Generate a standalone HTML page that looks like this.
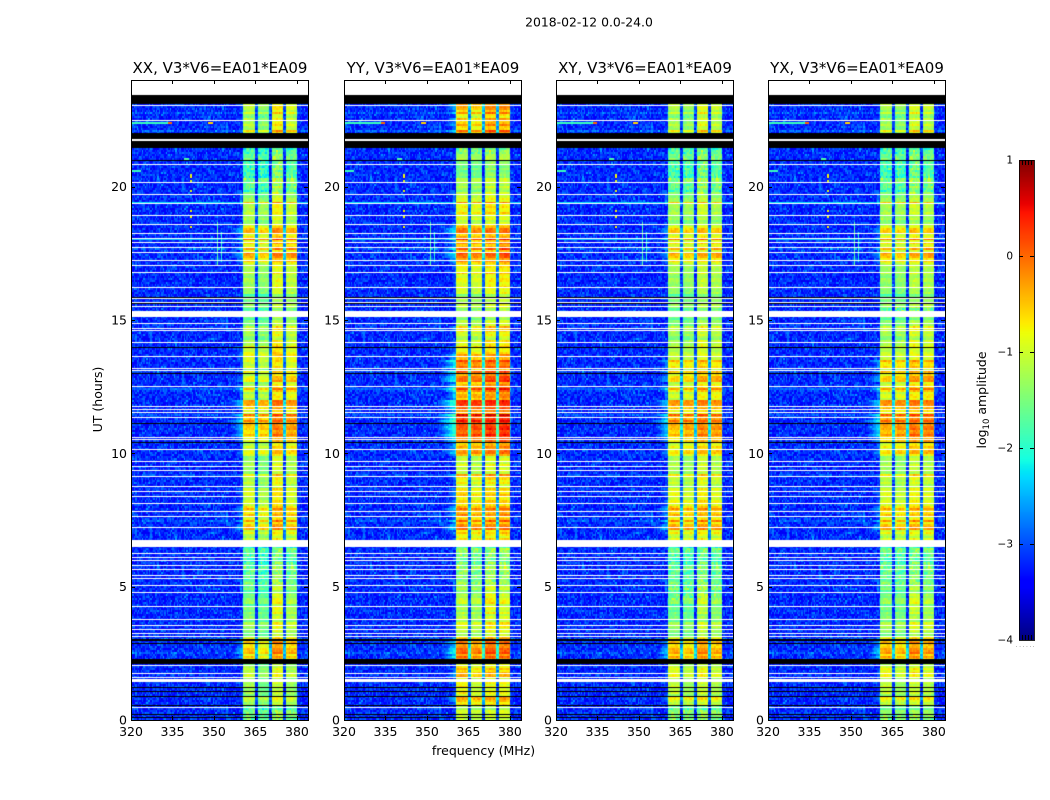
<!DOCTYPE html>
<html lang="en">
<head>
<meta charset="utf-8">
<title>2018-02-12 0.0-24.0 waterfall</title>
<style>
html,body{margin:0;padding:0;background:#fff;width:1050px;height:800px;overflow:hidden}
#figure{position:relative;width:1050px;height:800px;background:#fff}
canvas{position:absolute;display:block}
svg{position:absolute;left:0;top:0}
text{font-family:"DejaVu Sans","Liberation Sans",sans-serif;fill:#000}
</style>
</head>
<body>
<div id="figure">
<svg id="overlay" width="1050" height="800" viewBox="0 0 1050 800">
  <text x="589" y="26.500" text-anchor="middle" font-size="12.400">2018-02-12 0.0-24.0</text>
  <text x="483.500" y="755" text-anchor="middle" font-size="12.500">frequency (MHz)</text>
  <text transform="translate(102,399.500) rotate(-90)" text-anchor="middle" font-size="12.500">UT (hours)</text>
  <text transform="translate(986,400) rotate(-90)" text-anchor="middle" font-size="12.500">log<tspan font-size="8.500" dy="3">10</tspan><tspan dy="-3"> amplitude</tspan></text>
  <text x="1026" y="647" text-anchor="middle" font-size="6" style="fill:#777;letter-spacing:1.500px">......</text>
</svg>
</div>
<script>
// ---------- chart data ----------
const panelTitles = ["XX, V3*V6=EA01*EA09", "YY, V3*V6=EA01*EA09", "XY, V3*V6=EA01*EA09", "YX, V3*V6=EA01*EA09"];
const freqTicks = [320, 335, 350, 365, 380];
const hourTicks = [0, 5, 10, 15, 20];
const colorTicks = [-4, -3, -2, -1, 0, 1];

// In-band log10 amplitude for each quarter hour, 0.00 h upward
const levelsXX = [-1.7,-1.6,-1.3,-1.2,-1.25,-1.2,-1.3,-1.25,-1.05,-0.95,-0.8,-0.8,-1.1,-1.35,-1.3,-1.2,-1.2,-1.4,-1.45,-1.5,-1.75,-1.8,-1.75,-1.8,-1.75,-1.85,-1.8,-0.95,-0.8,-0.9,-0.75,-0.85,-1.1,-1.2,-1.05,-1.15,-1.25,-1.2,-1.1,-1.2,-1.0,-0.85,-0.7,-0.65,-0.55,-0.6,-0.7,-0.65,-0.85,-0.8,-0.95,-1.0,-1.05,-1.1,-1.0,-1.05,-1.15,-1.2,-1.25,-1.3,-1.4,-1.5,-1.5,-1.45,-1.35,-1.3,-1.35,-1.25,-0.75,-0.7,-0.65,-0.55,-0.6,-0.7,-1.15,-1.25,-1.2,-1.3,-1.45,-1.55,-1.6,-1.65,-1.6,-1.65,-1.75,-1.8,-1.5,-1.4,-1.3,-1.25,-1.2,-1.25,-1.3,-1.3,-1.3,-1.3];
const levelsYY = [-1.3,-1.15,-0.85,-0.75,-0.85,-0.8,-0.9,-0.8,-0.65,-0.55,-0.45,-0.5,-0.85,-1.15,-1.1,-1.0,-1.05,-1.2,-1.25,-1.3,-1.65,-1.7,-1.6,-1.65,-1.6,-1.7,-1.65,-0.7,-0.6,-0.7,-0.55,-0.65,-0.95,-1.05,-0.9,-1.0,-1.05,-1.0,-0.95,-1.0,-0.55,-0.35,-0.2,-0.15,-0.1,-0.1,-0.2,-0.2,-0.3,-0.25,-0.35,-0.35,-0.3,-0.35,-0.65,-1.0,-1.05,-1.1,-1.05,-1.1,-1.35,-1.3,-1.35,-1.25,-1.15,-1.1,-1.1,-1.05,-0.55,-0.5,-0.4,-0.35,-0.4,-0.5,-0.95,-1.1,-1.05,-1.15,-1.2,-1.25,-1.35,-1.4,-1.45,-1.4,-1.5,-1.55,-1.3,-1.2,-0.9,-0.8,-0.7,-0.75,-0.8,-0.8,-0.8,-0.8];
const levelsXY = [-1.65,-1.55,-1.15,-1.05,-1.1,-1.1,-1.15,-1.1,-0.9,-0.8,-0.75,-0.8,-1.15,-1.4,-1.4,-1.35,-1.4,-1.5,-1.55,-1.55,-1.8,-1.85,-1.8,-1.8,-1.8,-1.85,-1.8,-0.85,-0.7,-0.8,-0.7,-0.75,-1.05,-1.15,-1.05,-1.15,-1.2,-1.15,-1.1,-1.15,-0.9,-0.75,-0.65,-0.6,-0.5,-0.55,-0.65,-0.65,-0.8,-0.75,-0.85,-0.8,-0.85,-0.85,-1.2,-1.25,-1.25,-1.3,-1.3,-1.35,-1.45,-1.5,-1.5,-1.45,-1.45,-1.4,-1.45,-1.35,-0.9,-0.85,-0.8,-0.7,-0.75,-0.85,-1.3,-1.4,-1.35,-1.4,-1.5,-1.55,-1.6,-1.65,-1.6,-1.6,-1.7,-1.75,-1.55,-1.45,-1.4,-1.35,-1.3,-1.35,-1.4,-1.4,-1.4,-1.4];
const levelsYX = [-1.6,-1.45,-1.15,-1.05,-1.1,-1.1,-1.15,-1.05,-0.9,-0.8,-0.7,-0.75,-1.05,-1.3,-1.3,-1.25,-1.3,-1.4,-1.45,-1.5,-1.75,-1.8,-1.75,-1.75,-1.75,-1.8,-1.75,-0.95,-0.8,-0.9,-0.8,-0.85,-1.1,-1.2,-1.1,-1.2,-1.25,-1.2,-1.15,-1.2,-0.85,-0.65,-0.55,-0.5,-0.45,-0.5,-0.6,-0.6,-0.75,-0.7,-0.8,-0.75,-0.8,-0.8,-1.15,-1.2,-1.2,-1.25,-1.25,-1.3,-1.5,-1.55,-1.5,-1.5,-1.5,-1.45,-1.5,-1.4,-0.9,-0.85,-0.8,-0.75,-0.8,-0.9,-1.3,-1.4,-1.35,-1.4,-1.5,-1.6,-1.65,-1.7,-1.65,-1.65,-1.75,-1.8,-1.55,-1.5,-1.45,-1.4,-1.35,-1.4,-1.4,-1.4,-1.4,-1.4];
const panelLevels = [levelsXX, levelsYY, levelsXY, levelsYX];

// Relative response of the four sub-bands in each panel
const subbandGainXX = [-0.05, -0.2, 0.2, 0.0];
const subbandGainYY = [0.1, 0.0, 0.1, 0.15];
const subbandGainXY = [0.0, -0.05, 0.1, 0.0];
const subbandGainYX = [0.0, -0.05, 0.1, 0.05];
const panelGains = [subbandGainXX, subbandGainYY, subbandGainXY, subbandGainYX];
const subbandStartChannels = [81, 92, 102, 112];

// Hour-by-hour shift of each sub-band (0 h upward)
const subband1Drift = [0,0.15,0.05,-0.05,-0.1,0,0,0.1,0.05,0,-0.1,0.05,-0.1,0,-0.05,-0.05,0,0.1,0.05,-0.05,-0.1,0,0,0];
const subband2Drift = [0,0,-0.05,-0.1,-0.1,0,0,0.05,0,-0.05,0.05,0.1,0,0,-0.05,0,0,0.05,0,-0.05,-0.05,0,-0.1,0];
const subband3Drift = [0,0.1,0.15,0.1,0.25,0.1,0,0.1,0.1,0.1,0.1,0.1,0.1,0.05,0.15,0.05,0.1,0.05,0.05,0.1,0.05,0,0.2,0];
const subband4Drift = [0,0,0.05,0.05,0.05,0,0,0.1,0,0.05,0.1,0.1,0.15,0,0.1,0.1,0.1,0.15,0,0,-0.05,0,0.1,0];
const subbandDrifts = [subband1Drift, subband2Drift, subband3Drift, subband4Drift];

// Spectral shape per 0.5 MHz channel (320 MHz upward); -9 means no signal
const channelShape = [
-9,-9,-9,-9,-9,-9,-9,-9,-9,-9,-9,-9,-9,-9,-9,-9,-9,-9,-9,-9,
-9,-9,-9,-9,-9,-9,-9,-9,-9,-9,-9,-9,-9,-9,-9,-9,-9,-9,-9,-9,
-9,-9,-9,-9,-9,-9,-9,-9,-9,-9,-9,-9,-9,-9,-9,-9,-9,-9,-9,-9,
-9,-9,-9,-9,-9,-9,-9,-9,-3.2,-3.1,-3.0,-2.9,-2.8,-2.7,-2.6,-2.5,-2.4,-2.3,-2.2,-2.1,-2.0,
-0.15,-0.05,0,0,0.02,0,0,-0.03,-0.15,-1.9,-1.9,
-0.12,0,0.02,0,0,0,-0.03,-0.12,-1.9,-1.9,
-0.1,0,0.02,0.03,0,0,-0.02,-0.1,-1.9,-1.9,
-0.1,0,0.02,0,0.02,0,-0.02,-0.08,
-2.6,-9,-9,-9,-9,-9,-9,-9];

// Row-to-row stripes and cell residuals, read as typical deviations
const rowRipple = [0.05,-0.12,0.18,0.02,-0.2,0.12,0.24,-0.08,0.0,-0.15,0.1,0.2,-0.05,-0.22,0.06,0.15,-0.1,0.22,0.03,-0.18,0.09,-0.06,0.19,-0.14,0.01,0.13,-0.2,0.07,0.23,-0.11,-0.03,0.16,-0.17,0.04,0.21,-0.09,0.11];
const cellResidual = [0.12,-0.22,0.31,-0.05,0.08,-0.3,0.44,-0.14,0.02,0.19,-0.27,0.06,0.36,-0.1,-0.33,0.15,0.01,-0.19,0.27,-0.07,0.52,-0.24,0.1,-0.02,0.23,-0.35,0.05,0.17,-0.12,0.39,-0.28,0.0,0.13,-0.16,0.29,-0.08,-0.25,0.21,0.04,-0.31,0.33,-0.11,0.07,0.16,-0.21,0.47,-0.03,-0.29,0.11,0.25,-0.17,0.03,-0.34,0.2,0.09,-0.13,0.38,-0.06,-0.23,0.14,0.28,-0.18,0.0,0.18,-0.26,0.41,-0.09,0.06,-0.32,0.22,0.12,-0.15,0.03,0.34,-0.2,-0.04,0.26,-0.28,0.1,0.6,-0.12,-0.24,0.16,0.05,-0.36,0.3,-0.01,0.08,-0.19,0.24,-0.1,0.42,-0.27,0.02,0.15,-0.07,0.2];

// Background noise floor and its lift near strong rows
const backgroundLevel = [-3.2, -3.2, -3.2, -3.2];

// Rows with bursts: hour, in-band boost, broadband value
const burstHours = [19.42, 18.02, 17.63, 12.42, 13.05, 11.42, 9.22, 7.45, 3.05, 2.55, 22.12, 22.75];
const burstBoosts = [0.85, 0.8, 0.45, 0.85, 0.6, 0.35, 0.3, 0.35, 0.4, 0.4, 0.5, 0.3];
const burstFloors = [-2.35, -2.7, -3.0, -2.9, -3.0, -3.0, -3.0, -3.0, -3.0, -3.0, -3.0, -3.0];

// Narrow interference: hour, first channel, last channel, value
const rfiHours = [22.42, 22.42, 22.42, 20.6, 21.07, 19.4, 18.02];
const rfiFirstChannels = [0, 27, 56, 0, 38, 0, 0];
const rfiLastChannels = [26, 29, 58, 6, 41, 60, 60];
const rfiValues = [-1.9, 0.0, -0.6, -1.9, -1.8, -2.3, -2.4];

// Vertical interference: channel, start hour, end hour, value, minimum cell residual
const lineChannels = [62, 65, 43, 43];
const lineStartHours = [17.0, 17.2, 18.3, 19.8];
const lineEndHours = [18.7, 18.3, 19.2, 20.9];
const lineValues = [-1.8, -2.0, -0.9, -1.0];
const lineResidualGates = [-1, -1, 0.2, 0.2];

// Flagged data drawn white (no data) and black (zero amplitude), in hours
const whiteLineHours = [23.06,22.5,20.85,20.18,19.73,19.39,18.94,18.6,18.26,18.08,17.93,17.74,17.55,17.25,17.06,16.8,16.24,15.83,15.68,15.53,14.89,14.7,14.63,14.18,13.65,13.2,13.13,12.53,11.78,11.66,11.55,11.36,10.61,10.54,10.16,9.71,9.53,9.38,9.15,8.78,8.59,8.4,8.14,7.84,7.65,7.24,6.26,6.11,6.0,5.81,5.66,5.44,5.33,5.06,4.8,4.28,3.79,3.56,3.41,3.26,3.15,2.08,1.76,1.61,0.49];
const blackLineHours = [21.0,15.86,15.64,13.99,13.01,11.14,10.43,2.89,1.24,1.09,0.9,0.56,0.22,0.11];
const whiteBandStarts = [23.44, 21.71, 15.11, 6.49, 1.42];
const whiteBandEnds = [24.0, 21.79, 15.34, 6.75, 1.54];
const blackBandStarts = [23.1, 21.79, 21.45, 2.97, 2.1];
const blackBandEnds = [23.44, 22.01, 21.71, 3.04, 2.29];

// ---------- scales and geometry ----------
const SVGNS = "http://www.w3.org/2000/svg";
const panelLefts = [131, 344, 556, 768];
const panelW = 177, plotTop = 80, plotH = 640;
const freqMin = 320, freqMax = 384, hourMax = 24, channelCount = 128, rowCount = 320;
const xOf = (panel, f) => panelLefts[panel] + (f - freqMin) / (freqMax - freqMin) * panelW;
const yOf = h => plotTop + plotH - h / hourMax * plotH;

function clamp01(v){return Math.max(0, Math.min(1, v));}
function jet(t){
  const r = t < 0.35 ? 0 : t < 0.66 ? (t - 0.35) / 0.31 : t < 0.89 ? 1 : 1 - (t - 0.89) / 0.11 * 0.5;
  const g = t < 0.125 ? 0 : t < 0.375 ? (t - 0.125) / 0.25 : t < 0.64 ? 1 : t < 0.91 ? 1 - (t - 0.64) / 0.27 : 0;
  const b = t < 0.11 ? 0.5 + t / 0.11 * 0.5 : t < 0.34 ? 1 : t < 0.65 ? 1 - (t - 0.34) / 0.31 : 0;
  return "rgb(" + Math.round(r * 255) + "," + Math.round(g * 255) + "," + Math.round(b * 255) + ")";
}
const colorOf = v => jet(clamp01((v + 4) / 5));
function subbandOf(c){
  let s = 0;
  subbandStartChannels.forEach((start, i) => { if (c >= start) s = i; });
  return s;
}
function residualAt(r, c){
  return cellResidual[(r * r * 3 + c * c * 5 + r * c + r * 7 + c) % cellResidual.length];
}

// ---------- draw waterfall cells ----------
function cellValue(panel, r, c){
  const hour = (r + 0.5) * hourMax / rowCount;
  const level = panelLevels[panel][Math.min(panelLevels[panel].length - 1, Math.floor(hour * 4))];
  let boost = 0, floor = backgroundLevel[panel];
  burstHours.forEach((bh, i) => {
    if (Math.abs(bh - hour) <= hourMax / rowCount / 2) {
      boost = burstBoosts[i];
      floor = Math.max(floor, burstFloors[i]);
    }
  });
  const res = residualAt(r, c);
  const shape = channelShape[c];
  let v = floor + res * (floor > -3 ? 0.6 : 1);
  if (shape > -9) {
    const inBand = c >= subbandStartChannels[0] && shape > -1;
    const band = subbandOf(c);
    const gain = inBand ? panelGains[panel][band] + subbandDrifts[band][Math.floor(hour)] : 0;
    const ripple = rowRipple[(r * r + r * 5) % rowRipple.length] * (level > -1.1 ? 1.8 : 1.2);
    const mottling = level < -1.5 ? 1.0 : 0.4;
    const signal = shape + gain + level + boost + ripple + res * (inBand ? mottling : 0.5);
    v = Math.max(v, signal);
  }
  rfiHours.forEach((rh, i) => {
    if (Math.abs(rh - hour) <= hourMax / rowCount / 2 && c >= rfiFirstChannels[i] && c <= rfiLastChannels[i]) {
      v = Math.max(v, rfiValues[i]);
    }
  });
  lineChannels.forEach((lc, i) => {
    if (lc === c && hour >= lineStartHours[i] && hour <= lineEndHours[i] && res > lineResidualGates[i]) {
      v = Math.max(v, lineValues[i] + res * 0.4);
    }
  });
  return v;
}

const figure = document.getElementById("figure");
const overlay = document.getElementById("overlay");

panelTitles.forEach((title, p) => {
  const cv = document.createElement("canvas");
  cv.width = panelW; cv.height = plotH;
  cv.style.left = panelLefts[p] + "px";
  cv.style.top = plotTop + "px";
  
  
  figure.insertBefore(cv, overlay);
  const g = cv.getContext("2d");
  g.fillStyle = "#fff";
  g.fillRect(0, 0, panelW, plotH);
  const ox = panelLefts[p];
  for (let r = 0; r < rowCount; r++) {
    const hLow = r * hourMax / rowCount, hHigh = (r + 1) * hourMax / rowCount;
    const y0 = Math.round(yOf(hHigh)) - plotTop, y1 = Math.round(yOf(hLow)) - plotTop;
    for (let c = 0; c < channelCount; c++) {
      const fLow = freqMin + c * (freqMax - freqMin) / channelCount;
      const fHigh = freqMin + (c + 1) * (freqMax - freqMin) / channelCount;
      const x0 = Math.round(xOf(p, fLow)) - ox, x1 = Math.round(xOf(p, fHigh)) - ox;
      g.fillStyle = colorOf(cellValue(p, r, c));
      g.fillRect(x0, y0, x1 - x0, y1 - y0);
    }
  }
  g.fillStyle = "#fff";
  whiteLineHours.forEach(h => g.fillRect(0, Math.round(yOf(h)) - plotTop, panelW, 1));
  whiteBandStarts.forEach((s, i) => {
    const top = Math.round(yOf(whiteBandEnds[i])) - plotTop;
    g.fillRect(0, top, panelW, Math.round(yOf(s)) - plotTop - top);
  });
  g.fillStyle = "#000";
  blackLineHours.forEach(h => g.fillRect(0, Math.round(yOf(h)) - plotTop, panelW, 1));
  blackBandStarts.forEach((s, i) => {
    const top = Math.round(yOf(blackBandEnds[i])) - plotTop;
    g.fillRect(0, top, panelW, Math.round(yOf(s)) - plotTop - top);
  });
});

// ---------- axes ----------
function svgEl(tag, attrs){
  const el = document.createElementNS(SVGNS, tag);
  Object.keys(attrs).forEach(k => el.setAttribute(k, attrs[k]));
  overlay.appendChild(el);
  return el;
}

panelTitles.forEach((title, p) => {
  const left = panelLefts[p];
  const frame = svgEl("rect", {x: left + 0.5, y: plotTop + 0.5, width: panelW, height: plotH, fill: "none", stroke: "#000", "stroke-width": 1});
  
  

  const titleEl = svgEl("text", {x: left + panelW / 2 + 0.5, y: 73, "text-anchor": "middle", "font-size": 15});
  titleEl.textContent = title;
  
  

  freqTicks.forEach(f => {
    const x = Math.round(xOf(p, f)) + 0.5;
    if (f !== freqMin) {
      const topTick = svgEl("line", {x1: x, x2: x, y1: plotTop, y2: plotTop + 4, stroke: "#000"});
      
      
      const bottomTick = svgEl("line", {x1: x, x2: x, y1: plotTop + plotH, y2: plotTop + plotH - 4, stroke: "#000"});
      
      
    }
    const label = svgEl("text", {x: xOf(p, f), y: 736, "text-anchor": "middle", "font-size": 12.5});
    label.textContent = f;
    
    
  });

  hourTicks.forEach(h => {
    const y = Math.round(yOf(h)) + 0.5;
    if (h !== 0) {
      const leftTick = svgEl("line", {x1: left, x2: left + 4, y1: y, y2: y, stroke: "#000"});
      
      
      const rightTick = svgEl("line", {x1: left + panelW, x2: left + panelW - 4, y1: y, y2: y, stroke: "#000"});
      
      
    }
    const label = svgEl("text", {x: left - 4, y: yOf(h) + 4.5, "text-anchor": "end", "font-size": 12.5});
    label.textContent = h;
    
    
  });
});

// ---------- colorbar ----------
const cbLeft = 1019, cbWidth = 15, cbTop = 160, cbHeight = 480;
const cbMin = -4, cbMax = 1;
const cbY = v => cbTop + (cbMax - v) / (cbMax - cbMin) * cbHeight;
const cbCanvas = document.createElement("canvas");
cbCanvas.width = cbWidth; cbCanvas.height = cbHeight;
cbCanvas.style.left = cbLeft + "px";
cbCanvas.style.top = cbTop + "px";


figure.insertBefore(cbCanvas, overlay);
const cbCtx = cbCanvas.getContext("2d");
for (let i = 0; i < cbHeight; i++) {
  cbCtx.fillStyle = jet(1 - (i + 0.5) / cbHeight);
  cbCtx.fillRect(0, i, cbWidth, 1);
}
const cbFrame = svgEl("rect", {x: cbLeft + 0.5, y: cbTop + 0.5, width: cbWidth, height: cbHeight, fill: "none", stroke: "#000", "stroke-opacity": 0.85});


colorTicks.forEach(v => {
  const y = Math.round(cbY(v)) + 0.5;
  if (v !== cbMin && v !== cbMax) {
    const tickL = svgEl("line", {x1: cbLeft, x2: cbLeft + 4, y1: y, y2: y, stroke: "#000"});
    
    
    const tickR = svgEl("line", {x1: cbLeft + cbWidth, x2: cbLeft + cbWidth - 4, y1: y, y2: y, stroke: "#000"});
    
    
  }
  const label = svgEl("text", {x: cbLeft - 6, y: cbY(v) + 3.500, "text-anchor": "end", "font-size": 10.5});
  label.textContent = v < 0 ? "\u2212" + Math.abs(v) : String(v);
  
  
});
[3, 6, 9, 12].forEach(dx => {
  const topMinor = svgEl("line", {x1: cbLeft + dx + 0.5, x2: cbLeft + dx + 0.5, y1: cbTop, y2: cbTop + 5, stroke: "#000"});
  
  
  const bottomMinor = svgEl("line", {x1: cbLeft + dx + 0.5, x2: cbLeft + dx + 0.5, y1: cbTop + cbHeight, y2: cbTop + cbHeight - 5, stroke: "#000"});
  
  
});
</script>
</body>
</html>
